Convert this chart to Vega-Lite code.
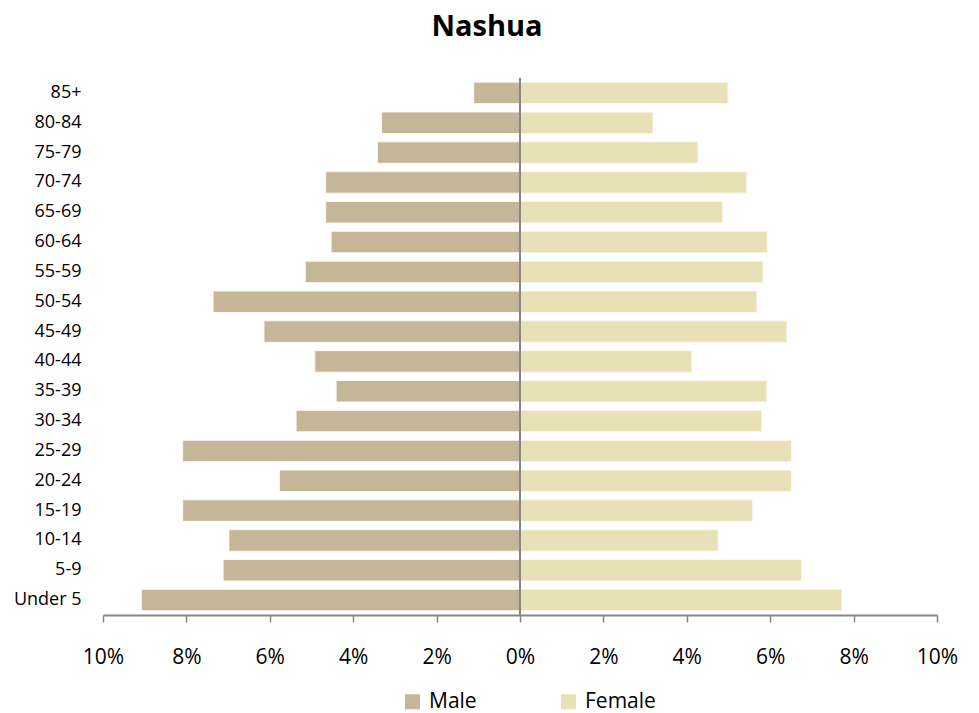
{
  "$schema": "https://vega.github.io/schema/vega-lite/v6.json",
  "width": 834,
  "height": 537,
  "autosize": {"type": "none"},
  "padding": {"left": 103, "top": 78, "right": 42, "bottom": 98},
  "background": "white",
  "title": {"text": "Nashua", "font": "Open Sans", "fontSize": 29, "fontWeight": "bold", "color": "#000000", "anchor": "middle", "dx": -33, "offset": 35},
  "data": {"values": [
    {"age": "85+", "sex": "Male", "pct": -1.11}, {"age": "85+", "sex": "Female", "pct": 4.99},
    {"age": "80-84", "sex": "Male", "pct": -3.32}, {"age": "80-84", "sex": "Female", "pct": 3.19},
    {"age": "75-79", "sex": "Male", "pct": -3.42}, {"age": "75-79", "sex": "Female", "pct": 4.27},
    {"age": "70-74", "sex": "Male", "pct": -4.66}, {"age": "70-74", "sex": "Female", "pct": 5.44},
    {"age": "65-69", "sex": "Male", "pct": -4.66}, {"age": "65-69", "sex": "Female", "pct": 4.86},
    {"age": "60-64", "sex": "Male", "pct": -4.53}, {"age": "60-64", "sex": "Female", "pct": 5.93},
    {"age": "55-59", "sex": "Male", "pct": -5.15}, {"age": "55-59", "sex": "Female", "pct": 5.83},
    {"age": "50-54", "sex": "Male", "pct": -7.36}, {"age": "50-54", "sex": "Female", "pct": 5.68},
    {"age": "45-49", "sex": "Male", "pct": -6.14}, {"age": "45-49", "sex": "Female", "pct": 6.40},
    {"age": "40-44", "sex": "Male", "pct": -4.92}, {"age": "40-44", "sex": "Female", "pct": 4.12},
    {"age": "35-39", "sex": "Male", "pct": -4.41}, {"age": "35-39", "sex": "Female", "pct": 5.92},
    {"age": "30-34", "sex": "Male", "pct": -5.37}, {"age": "30-34", "sex": "Female", "pct": 5.80},
    {"age": "25-29", "sex": "Male", "pct": -8.09}, {"age": "25-29", "sex": "Female", "pct": 6.51},
    {"age": "20-24", "sex": "Male", "pct": -5.77}, {"age": "20-24", "sex": "Female", "pct": 6.51},
    {"age": "15-19", "sex": "Male", "pct": -8.09}, {"age": "15-19", "sex": "Female", "pct": 5.58},
    {"age": "10-14", "sex": "Male", "pct": -6.98}, {"age": "10-14", "sex": "Female", "pct": 4.75},
    {"age": "5-9", "sex": "Male", "pct": -7.12}, {"age": "5-9", "sex": "Female", "pct": 6.75},
    {"age": "Under 5", "sex": "Male", "pct": -9.08}, {"age": "Under 5", "sex": "Female", "pct": 7.72}
  ]},
  "layer": [
    {
      "mark": {"type": "bar", "stroke": "#FAF8F0", "strokeWidth": 1},
      "encoding": {
        "y": {
          "field": "age", "type": "nominal",
          "sort": ["85+", "80-84", "75-79", "70-74", "65-69", "60-64", "55-59", "50-54", "45-49", "40-44", "35-39", "30-34", "25-29", "20-24", "15-19", "10-14", "5-9", "Under 5"],
          "scale": {"paddingInner": 0.28, "paddingOuter": 0.14},
          "axis": {"title": null, "ticks": false, "domain": false, "labelPadding": 22, "labelFont": "Open Sans", "labelFontSize": 18, "labelColor": "#000000"}
        },
        "x": {
          "field": "pct", "type": "quantitative",
          "scale": {"domain": [-10, 10], "nice": false},
          "axis": {"title": null, "values": [-10, -8, -6, -4, -2, 0, 2, 4, 6, 8, 10], "labelExpr": "abs(datum.value) + '%'", "labelFlush": false, "labelOverlap": false, "labelBound": false, "grid": false, "domainColor": "#868686", "domainWidth": 2, "tickColor": "#868686", "tickWidth": 1.5, "tickSize": 7, "labelPadding": 24, "labelFont": "Open Sans", "labelFontSize": 21, "labelColor": "#000000"}
        },
        "color": {
          "field": "sex", "type": "nominal",
          "scale": {"domain": ["Male", "Female"], "range": ["#C4B696", "#E8E1B8"]},
          "legend": {"title": null, "orient": "none", "legendX": 299, "legendY": 613, "direction": "horizontal", "symbolType": "square", "symbolSize": 225, "symbolStrokeWidth": 0, "labelFont": "Open Sans", "labelFontSize": 21, "labelColor": "#000000", "labelOffset": 6, "columnPadding": 81}
        }
      }
    },
    {
      "data": {"values": [{}]},
      "mark": {"type": "rule", "color": "#868686", "strokeWidth": 2},
      "encoding": {"x": {"datum": 0}}
    }
  ],
  "config": {"view": {"stroke": null}}
}
